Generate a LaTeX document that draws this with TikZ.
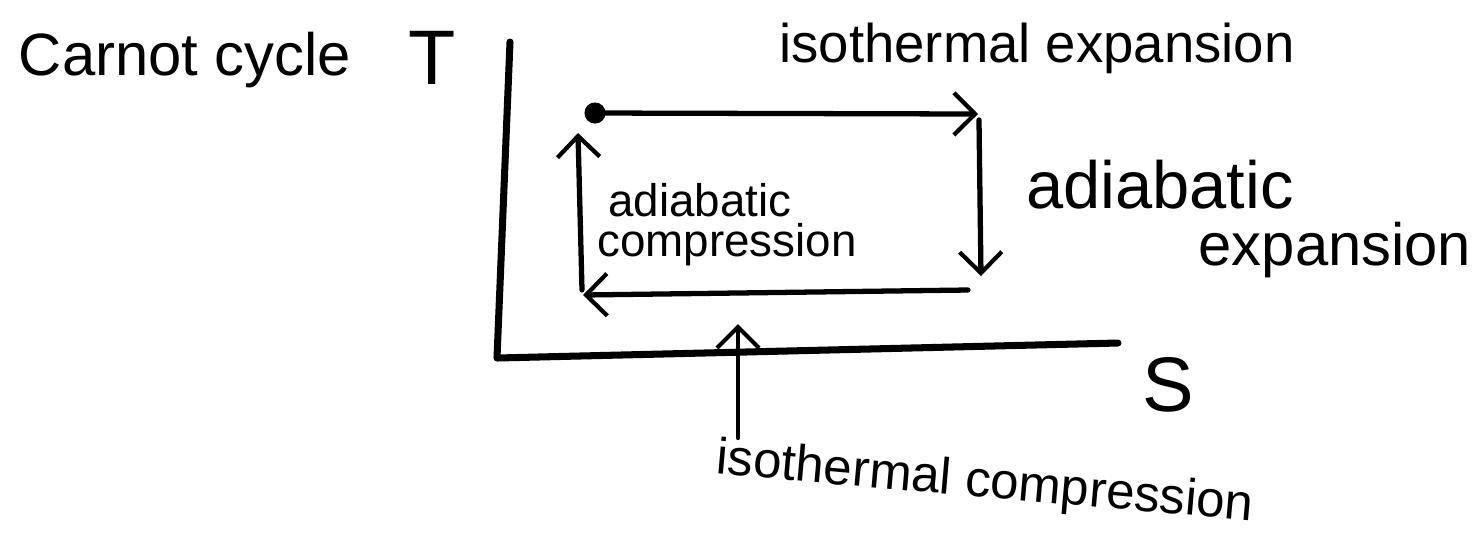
\documentclass[tikz,border=0pt]{standalone}
\usepackage{fontspec}
\setmainfont{Liberation Sans}
\usetikzlibrary{arrows.meta}
\begin{document}
\begin{tikzpicture}[x=0.01cm,y=-0.01cm,
  pen/.style={line width=1.5pt,line cap=round,line join=round},
  barb/.style={-{Straight Barb[length=6pt,width=12pt,line width=1.2pt]}},
  lbl/.style={inner sep=0pt,anchor=center}]
\useasboundingbox (0,0) rectangle (1481,538);
% axes
\coordinate (ytop) at (510,42);
\coordinate (origin) at (497,358);
\coordinate (xend) at (1118,343);
\draw[pen,line width=2pt] (ytop) -- (origin) -- (xend);
% cycle corners
\coordinate (tl) at (595,113);
\coordinate (tr) at (978,114);
\coordinate (rt) at (979,120);
\coordinate (rb) at (981,276);
\coordinate (br) at (968,290);
\coordinate (bl) at (583,295);
\coordinate (lb) at (582,290);
\coordinate (lt) at (578,133);
\fill (tl) circle (3pt);
\draw[pen,barb] (tl) -- (tr);
\draw[pen,barb] (rt) -- (rb);
\draw[pen,barb] (br) -- (bl);
\draw[pen,barb] (lb) -- (lt);
% labels
\node[lbl,font=\fontsize{17}{20}\selectfont] (carnot) at (185,60) {Carnot cycle};
\node[lbl,font=\fontsize{22}{24}\selectfont] (T) at (432,58) {T};
\node[lbl,font=\fontsize{22}{24}\selectfont] (S) at (1168,385) {S};
\node[lbl,font=\fontsize{15.5}{18}\selectfont] (isoexp) at (1037,48) {isothermal expansion};
\node[lbl,font=\fontsize{19}{22}\selectfont] (adexp1) at (1160,185) {adiabatic};
\node[lbl,font=\fontsize{17}{20}\selectfont] (adexp2) at (1335,250) {expansion};
\node[lbl,font=\fontsize{13}{16}\selectfont] (adcomp1) at (700,200) {adiabatic};
\node[lbl,font=\fontsize{13}{16}\selectfont] (adcomp2) at (727,245) {compression};
\node[lbl,font=\fontsize{14.5}{17}\selectfont,rotate=-5] (isocomp) at (985,484) {isothermal compression};
\coordinate (ptr) at (738,438);
\coordinate (ptrtip) at (738,324);
\draw[pen,barb,line width=1.2pt] (ptr) -- (ptrtip);
\end{tikzpicture}
\end{document}
